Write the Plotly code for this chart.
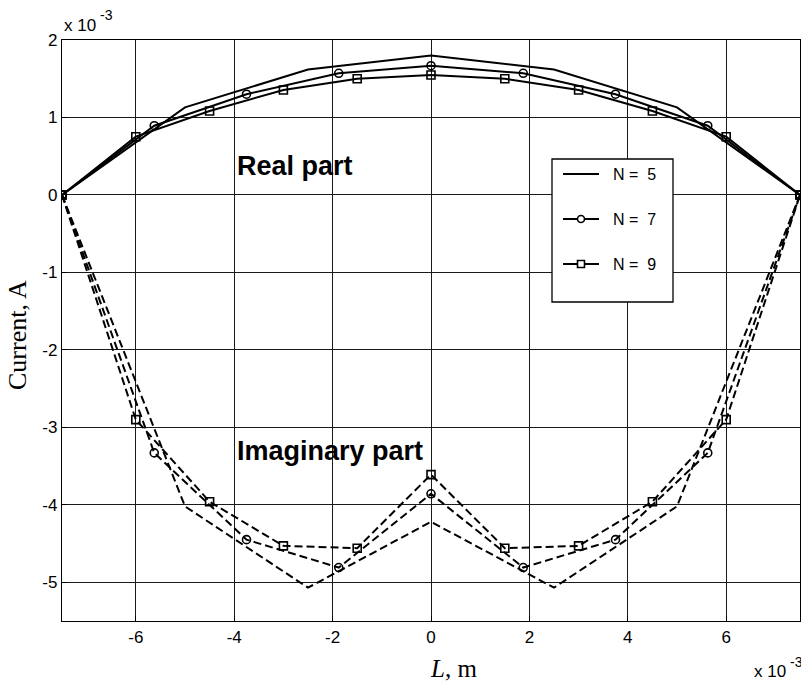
import plotly.graph_objects as go

# Positions along the wire, m (x 1e-3)
x_n5 = [-7.5, -5.0, -2.5, 0.0, 2.5, 5.0, 7.5]
x_n7 = [-7.5, -5.625, -3.75, -1.875, 0.0, 1.875, 3.75, 5.625, 7.5]
x_n9 = [-7.5, -6.0, -4.5, -3.0, -1.5, 0.0, 1.5, 3.0, 4.5, 6.0, 7.5]

# Real part of the current, A (x 1e-3)
re_n5 = [0.0, 1.13, 1.62, 1.80, 1.62, 1.13, 0.0]
re_n7 = [0.0, 0.894, 1.30, 1.57, 1.668, 1.57, 1.30, 0.894, 0.0]
re_n9 = [0.0, 0.752, 1.084, 1.355, 1.50, 1.548, 1.50, 1.355, 1.084, 0.752, 0.0]

# Imaginary part of the current, A (x 1e-3)
im_n5 = [0.0, -4.02, -5.07, -4.22, -5.07, -4.02, 0.0]
im_n7 = [0.0, -3.33, -4.45, -4.81, -3.858, -4.81, -4.45, -3.33, 0.0]
im_n9 = [0.0, -2.90, -3.96, -4.53, -4.56, -3.61, -4.56, -4.53, -3.96, -2.90, 0.0]

x_ticks = [-6, -4, -2, 0, 2, 4, 6]
y_ticks = [-5, -4, -3, -2, -1, 0, 1, 2]

legend_labels = ["N =\u00a0\u00a05", "N =\u00a0\u00a07", "N =\u00a0\u00a09"]

SANS = "Liberation Sans, Arial, sans-serif"
SERIF = "Liberation Serif, Times New Roman, serif"

# figure geometry (pixels)
W, H = 801, 686
L, R, T, B = 62, 800, 40, 621

fig = go.Figure()

def add_series(x, y, symbol, dash):
    mode = "lines" if symbol is None else "lines+markers"
    fig.add_trace(go.Scatter(
        x=x, y=y, mode=mode,
        line=dict(color="black", width=2, dash=dash),
        marker=dict(symbol=symbol or "circle", size=8, color="black",
                    line=dict(color="black", width=1.6)),
        showlegend=False, hoverinfo="skip"))

add_series(x_n5, re_n5, None, "solid")
add_series(x_n7, re_n7, "circle-open", "solid")
add_series(x_n9, re_n9, "square-open", "solid")
add_series(x_n5, im_n5, None, "8px,4px")
add_series(x_n7, im_n7, "circle-open", "8px,4px")
add_series(x_n9, im_n9, "square-open", "8px,4px")

def px(xp):
    return (xp - L) / (R - L)

def py(yp):
    return (B - yp) / (B - T)

shapes = []
annotations = []

def text(s, x, y, size, family=SANS, xanchor="left", yanchor="middle", angle=0):
    annotations.append(dict(text=s, xref="paper", yref="paper",
                            x=px(x), y=py(y), xanchor=xanchor, yanchor=yanchor,
                            textangle=angle, showarrow=False,
                            font=dict(family=family, size=size, color="black")))

# legend box
shapes.append(dict(type="rect", xref="paper", yref="paper",
                   x0=px(552), x1=px(673), y0=py(302), y1=py(159),
                   line=dict(color="black", width=1.3), fillcolor="white",
                   layer="above"))
legend_rows = [174, 219, 264]
symbols = [None, "circle", "square"]
for label, row, sym in zip(legend_labels, legend_rows, symbols):
    shapes.append(dict(type="line", xref="paper", yref="paper",
                       x0=px(563), x1=px(599), y0=py(row), y1=py(row),
                       line=dict(color="black", width=2), layer="above"))
    if sym in ("circle", "square"):
        shapes.append(dict(type="circle" if sym == "circle" else "rect",
                           xref="paper", yref="paper",
                           x0=px(577.5), x1=px(584.5), y0=py(row + 3.5), y1=py(row - 3.5),
                           line=dict(color="black", width=1.6), fillcolor="white",
                           layer="above"))
    text(label, 611, row, 16)

# part labels
text("<b>Real part</b>", 235, 166, 27)
text("<b>Imaginary part</b>", 235, 451, 27)

# exponent labels
text("x 10", 62, 25, 17)
text("-3", 98, 15, 14)
text("x 10", 752, 671, 17)
text("-3", 788, 662, 14)

# axis titles
text("<i>L</i>, m", 453, 668, 25, family=SERIF, xanchor="center")
text("Current, A", 18, 335, 26, family=SERIF, xanchor="center", angle=-90)

axis_common = dict(
    showgrid=True, gridcolor="#1a1a1a", gridwidth=1,
    showline=True, linecolor="black", linewidth=1.3, mirror=True,
    ticks="inside", ticklen=5, tickcolor="black",
    zeroline=False,
    tickfont=dict(family=SANS, size=17, color="black"),
)

fig.update_xaxes(range=[-7.5, 7.5], tickvals=x_ticks,
                 ticktext=[str(v) for v in x_ticks], **axis_common)
fig.update_yaxes(range=[-5.5, 2], tickvals=y_ticks,
                 ticktext=[str(v) for v in y_ticks], **axis_common)

fig.update_layout(
    width=W, height=H,
    margin=dict(l=L, r=W - R, t=T, b=H - B, pad=0),
    paper_bgcolor="white", plot_bgcolor="white",
    shapes=shapes, annotations=annotations,
    showlegend=False,
)

fig.write_html("out.html")
